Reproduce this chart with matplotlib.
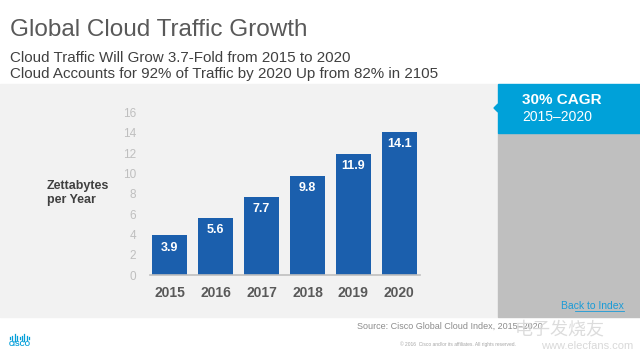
import matplotlib.pyplot as plt
from matplotlib.patches import Rectangle, Polygon

years = ['2015', '2016', '2017', '2018', '2019', '2020']
zettabytes = [3.9, 5.6, 7.7, 9.8, 11.9, 14.1]
yticks = [0, 2, 4, 6, 8, 10, 12, 14, 16]

W, H = 640, 363


def fx(x):
    return x / W


def fy(y):
    return 1 - y / H


fig = plt.figure(figsize=(6.4, 3.63), dpi=100)
fig.patch.set_facecolor('white')

# background panels
fig.patches.append(Rectangle((0, fy(317)), fx(498), (317 - 84) / H,
                             transform=fig.transFigure, color='#f2f2f2', zorder=0))
fig.patches.append(Rectangle((fx(498), fy(317)), fx(142), (317 - 133) / H,
                             transform=fig.transFigure, color='#bfbfbf', zorder=0))
fig.patches.append(Rectangle((fx(498), fy(133)), fx(142), (133 - 84) / H,
                             transform=fig.transFigure, color='#00a1d9', zorder=1))
fig.patches.append(Polygon([[fx(498), fy(104)], [fx(494), fy(108)], [fx(498), fy(112)]],
                           closed=True, transform=fig.transFigure, color='#00a1d9', zorder=1))

# titles
fig.text(fx(10), fy(30), 'Global Cloud Traffic Growth', fontsize=17.5, color='#595959',
         va='center', ha='left', family='Liberation Sans')
fig.text(fx(10), fy(58), 'Cloud Traffic Will Grow 3.7-Fold from 2015 to 2020', fontsize=10.9,
         color='#404040', va='center', ha='left', family='Liberation Sans')
fig.text(fx(10), fy(74), 'Cloud Accounts for 92% of Traffic by 2020 Up from 82% in 2105', fontsize=10.9,
         color='#404040', va='center', ha='left', family='Liberation Sans')

# CAGR box
fig.text(fx(522), fy(100), '30% CAGR', fontsize=11, fontweight='bold', color='white',
         va='center', ha='left', family='Liberation Sans')
fig.text(fx(522), fy(117), '2015\u20132020', fontsize=10, color='white',
         va='center', ha='left', family='Liberation Sans')

# chart
ax = fig.add_axes([fx(150), fy(275), fx(270), (275 - 112.7) / H])
ax.set_zorder(3)
ax.set_facecolor('none')
x = list(range(len(years)))
bars = ax.bar(x, zettabytes, width=0.76, color='#1b5fad', zorder=2)
for xi, v in zip(x, zettabytes):
    ax.text(xi, v - 1.2, f'{v}', ha='center', va='center', color='white',
            fontsize=9, fontweight='bold', family='Liberation Sans')
ax.set_xlim(-0.43, 5.45)
ax.set_ylim(0, 16)
ax.set_yticks(yticks)
ax.set_xticks(x)
ax.set_xticklabels(years, fontsize=10, fontweight='bold', color='#595959', family='Liberation Sans')
ax.tick_params(axis='x', length=0, pad=8)
ax.tick_params(axis='y', length=0, pad=10, labelcolor='#bfbfbf', labelsize=8.5)
for lbl in ax.get_yticklabels():
    lbl.set_family('Liberation Sans')
for s in ['top', 'right', 'left']:
    ax.spines[s].set_visible(False)
ax.spines['bottom'].set_color('#bfbfbf')
ax.spines['bottom'].set_linewidth(1.2)
ax.spines['bottom'].set_zorder(3)

fig.text(fx(47), fy(193), 'Zettabytes\nper Year', fontsize=9, fontweight='bold', color='#404040',
         va='center', ha='left', linespacing=1.3, family='Liberation Sans')

# footer
fig.text(fx(624), fy(306), 'Back to Index', fontsize=7.5, color='#1a9bd7', ha='right', va='center',
         family='Liberation Sans')
fig.add_artist(plt.Line2D([fx(575), fx(624)], [fy(311), fy(311)], color='#1a9bd7', lw=0.6))
fig.text(fx(357), fy(326), 'Source: Cisco Global Cloud Index, 2015\u20132020', fontsize=6.5,
         color='#8c8c8c', ha='left', va='center', family='Liberation Sans')
fig.text(fx(400), fy(344), '\u00a9 2016  Cisco and/or its affiliates. All rights reserved.', fontsize=3.5,
         color='#a6a6a6', ha='left', va='center', family='Liberation Sans')

# cisco logo
heights = [2, 4, 7, 4, 2, 4, 7, 4, 2]
for i, h in enumerate(heights):
    xx = fx(10 + i * 2.4)
    fig.add_artist(plt.Line2D([xx, xx], [fy(334 + (7 - h) / 2), fy(334 + (7 - h) / 2 + h)],
                              color='#049fd9', lw=0.9))
fig.text(fx(19.5), fy(345), 'CISCO', fontsize=5, fontweight='bold', color='#049fd9',
         ha='center', va='center', family='Liberation Sans')

# watermark
fig.text(fx(515), fy(329), '电子发烧友', fontsize=13, color='#d9d9d9', alpha=0.9,
         ha='left', va='center', family=['Noto Sans CJK SC', 'DejaVu Sans'])
fig.text(fx(633), fy(346), 'www.elecfans.com', fontsize=8, color='#d9d9d9',
         ha='right', va='center', family='Liberation Sans')

fig.savefig('out.png', dpi=100)
